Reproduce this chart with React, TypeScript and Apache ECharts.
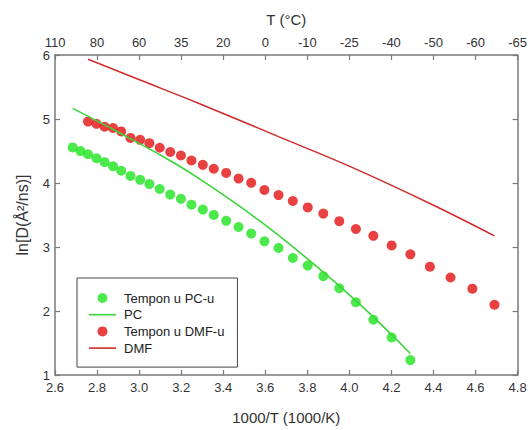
import React, { useEffect, useRef } from "react";
import * as echarts from "echarts";

const xTickLabels = ["2.6", "2.8", "3.0", "3.2", "3.4", "3.6", "3.8", "4.0", "4.2", "4.4", "4.6", "4.8"];
const topTickLabels = ["110", "80", "60", "35", "20", "0", "-10", "-25", "-40", "-50", "-60", "-65"];

const pcX = [2.684, 2.721, 2.757, 2.797, 2.836, 2.876, 2.915, 2.959, 3.005, 3.049, 3.098, 3.148, 3.199, 3.249, 3.303, 3.355, 3.414, 3.473, 3.533, 3.596, 3.663, 3.731, 3.802, 3.876, 3.952, 4.031, 4.114, 4.201, 4.290];
const pcY = [4.556, 4.499, 4.449, 4.387, 4.326, 4.260, 4.192, 4.111, 4.049, 3.983, 3.906, 3.819, 3.753, 3.661, 3.584, 3.501, 3.409, 3.312, 3.209, 3.089, 2.985, 2.828, 2.710, 2.544, 2.356, 2.137, 1.863, 1.587, 1.233];

const dmfX = [2.757, 2.797, 2.836, 2.876, 2.915, 2.959, 3.005, 3.049, 3.098, 3.148, 3.199, 3.249, 3.303, 3.355, 3.414, 3.473, 3.533, 3.596, 3.663, 3.731, 3.802, 3.876, 3.952, 4.031, 4.114, 4.201, 4.290, 4.383, 4.481, 4.585, 4.690];
const dmfY = [4.960, 4.925, 4.879, 4.859, 4.806, 4.705, 4.674, 4.622, 4.551, 4.484, 4.429, 4.352, 4.284, 4.223, 4.157, 4.069, 4.003, 3.891, 3.811, 3.719, 3.619, 3.522, 3.404, 3.281, 3.174, 3.025, 2.886, 2.693, 2.524, 2.349, 2.098];

const pcFitX = [2.684, 2.906, 3.128, 3.285, 3.569, 3.844, 4.067, 4.290];
const pcFitY = [5.166, 4.786, 4.387, 4.069, 3.419, 2.697, 2.052, 1.335];

const dmfFitX = [2.757, 3.005, 3.285, 3.663, 4.002, 4.383, 4.690];
const dmfFitY = [5.934, 5.609, 5.243, 4.725, 4.260, 3.680, 3.174];

const FONT = "'Liberation Sans', Arial, sans-serif";
const AXIS_COLOR = "#7a7a7a";
const LABEL_COLOR = "#333";
const LINE_ICON = "path://M0,0 L27,0 L27,1.6 L0,1.6 Z";

const zip = (xs: number[], ys: number[]) => xs.map((x, i) => [x, ys[i]]);

export default function App() {
  const ref = useRef<HTMLDivElement>(null);
  useEffect(() => {
    if (!ref.current) return;
    const chart = echarts.init(ref.current, undefined, { renderer: "svg" });
    const axisLine = { show: true, lineStyle: { color: AXIS_COLOR, width: 1.5 } };
    const axisTick = { show: true, inside: true, length: 5, lineStyle: { color: AXIS_COLOR, width: 1.2 } };
    const tickIndex = (v: number) => Math.round((v - 2.6) / 0.2);
    chart.setOption({
      animation: false,
      textStyle: { fontFamily: FONT },
      grid: { left: 55, right: 9.5, top: 55, bottom: 49.5, show: false },
      legend: {
        orient: "vertical",
        left: 77,
        top: 278,
        padding: [13, 13, 12, 12],
        itemGap: 2.7,
        itemWidth: 27,
        itemHeight: 10,
        borderColor: "#444",
        borderWidth: 1,
        textStyle: { fontSize: 13, color: "#222", lineHeight: 14, fontFamily: FONT, padding: [0, 0, 0, 3] },
        data: [
          { name: "Tempon u PC-u", icon: "circle" },
          { name: "PC", icon: LINE_ICON },
          { name: "Tempon u DMF-u", icon: "circle" },
          { name: "DMF", icon: LINE_ICON },
        ],
      },
      xAxis: [
        {
          type: "value",
          position: "bottom",
          min: 2.6,
          max: 4.8,
          interval: 0.2,
          name: "1000/T (1000/K)",
          nameLocation: "middle",
          nameGap: 35,
          nameTextStyle: { fontSize: 15, color: LABEL_COLOR, fontFamily: FONT },
          axisLine,
          axisTick,
          splitLine: { show: false },
          axisLabel: {
            fontSize: 13,
            color: LABEL_COLOR,
            margin: 6,
            fontFamily: FONT,
            formatter: (v: number) => xTickLabels[tickIndex(v)] ?? "",
          },
        },
        {
          type: "value",
          position: "top",
          min: 2.6,
          max: 4.8,
          interval: 0.2,
          name: "T (°C)",
          nameLocation: "middle",
          nameGap: 28,
          nameTextStyle: { fontSize: 15, color: LABEL_COLOR, fontFamily: FONT },
          axisLine,
          axisTick,
          splitLine: { show: false },
          axisLabel: {
            fontSize: 13,
            color: LABEL_COLOR,
            margin: 6,
            fontFamily: FONT,
            formatter: (v: number) => topTickLabels[tickIndex(v)] ?? "",
          },
        },
      ],
      yAxis: [
        {
          type: "value",
          position: "left",
          min: 1,
          max: 6,
          interval: 1,
          name: "ln[D(Å²/ns)]",
          nameLocation: "middle",
          nameGap: 25,
          nameTextStyle: { fontSize: 16, color: LABEL_COLOR, fontFamily: FONT },
          axisLine,
          axisTick,
          splitLine: { show: false },
          axisLabel: { fontSize: 13, color: LABEL_COLOR, margin: 5, fontFamily: FONT },
        },
        {
          type: "value",
          position: "right",
          min: 1,
          max: 6,
          interval: 1,
          axisLine,
          axisTick,
          splitLine: { show: false },
          axisLabel: { show: false },
        },
      ],
      series: [
        {
          name: "Tempon u PC-u",
          type: "scatter",
          symbol: "circle",
          symbolSize: 10,
          itemStyle: { color: "#1fe41f" },
          data: zip(pcX, pcY),
          z: 3,
        },
        {
          name: "PC",
          type: "line",
          symbol: "none",
          smooth: 0.4,
          lineStyle: { color: "#3ad63a", width: 1.6 },
          itemStyle: { color: "#3ad63a" },
          data: zip(pcFitX, pcFitY),
          z: 4,
        },
        {
          name: "Tempon u DMF-u",
          type: "scatter",
          symbol: "circle",
          symbolSize: 10,
          itemStyle: { color: "#e41212" },
          data: zip(dmfX, dmfY),
          z: 3,
        },
        {
          name: "DMF",
          type: "line",
          symbol: "none",
          smooth: 0.4,
          lineStyle: { color: "#d02a2a", width: 1.5 },
          itemStyle: { color: "#d02a2a" },
          data: zip(dmfFitX, dmfFitY),
          z: 4,
        },
      ],
    });
    return () => chart.dispose();
  }, []);
  return (
    <div
      ref={ref}
      style={{ position: "absolute", left: 0, top: 0, width: 530, height: 430, background: "#fff" }}
    />
  );
}
